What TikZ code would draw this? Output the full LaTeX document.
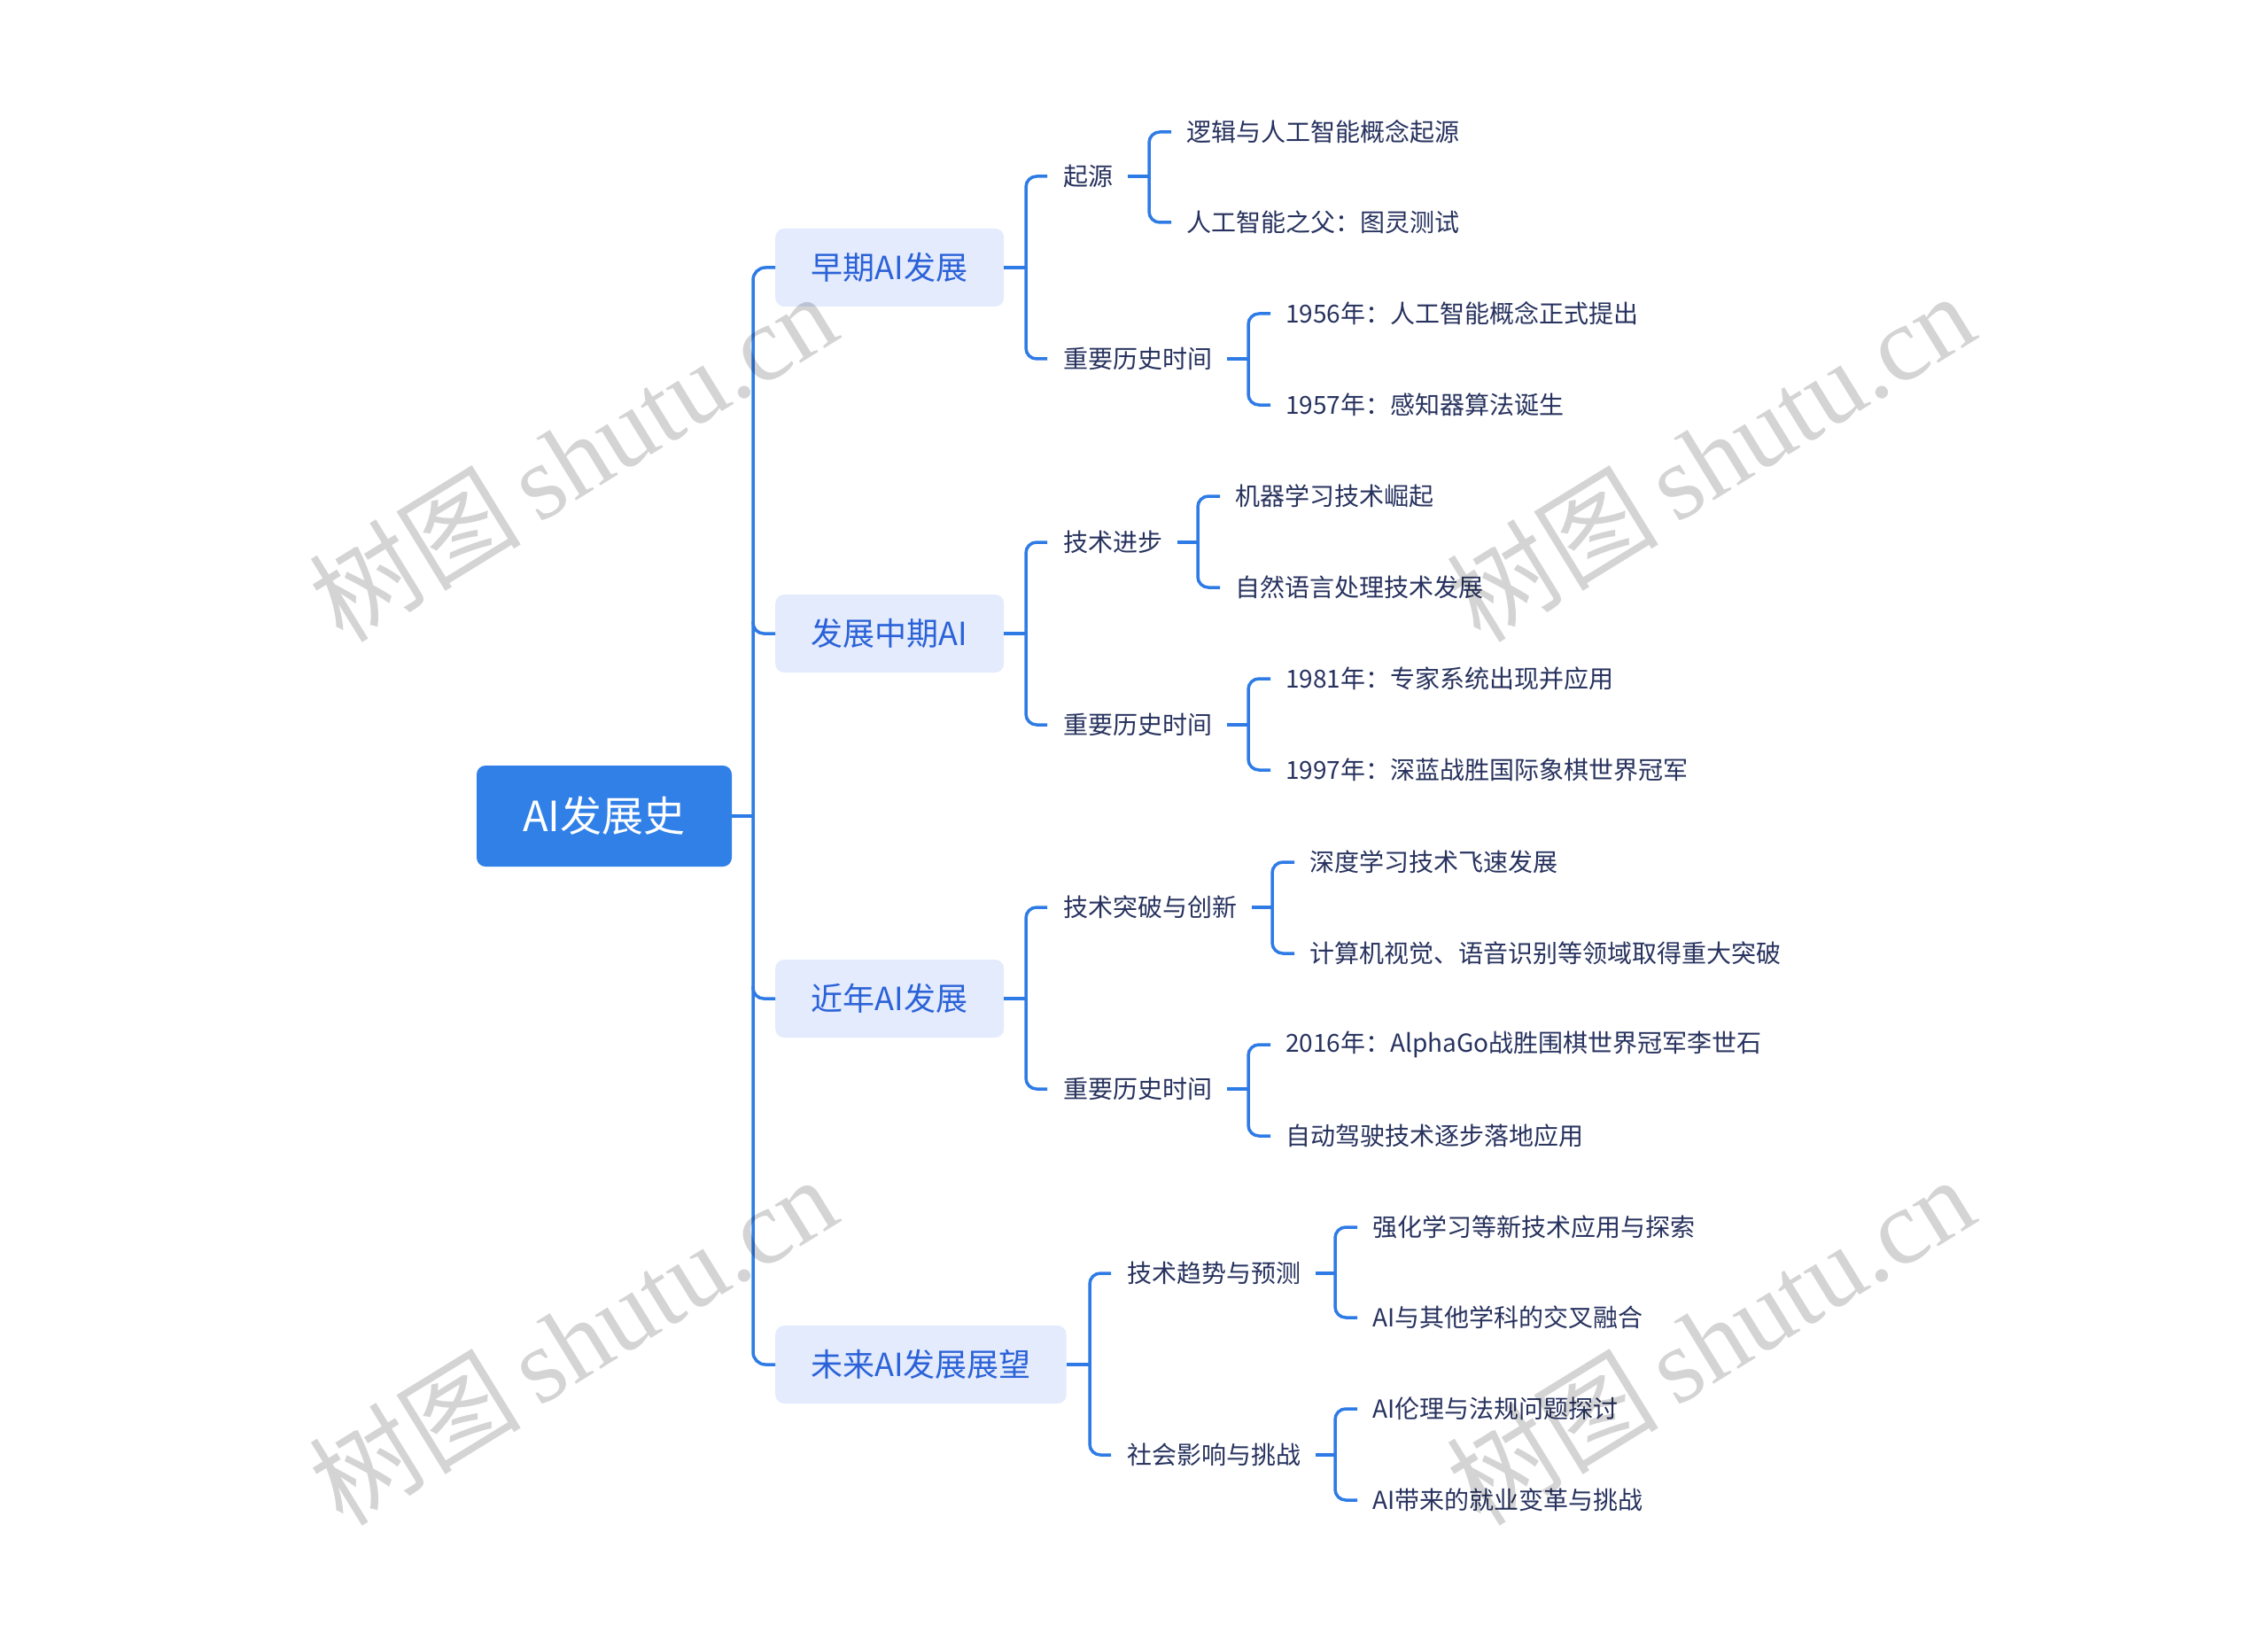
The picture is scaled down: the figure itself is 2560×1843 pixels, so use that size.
\documentclass[tikz,border=0pt]{standalone}
\usepackage{fontspec}
\setmainfont{Noto Sans CJK SC}
\newfontfamily\wmlatin{Liberation Serif}
\newfontfamily\wmcjk{Noto Sans CJK SC}
\usetikzlibrary{calc}
\definecolor{lineblue}{HTML}{2E7BE6}
\definecolor{rootblue}{HTML}{3080E8}
\definecolor{lonefill}{HTML}{E3EBFD}
\definecolor{lonetext}{HTML}{2B62D8}
\definecolor{navytext}{HTML}{27325E}
\begin{document}
\begin{tikzpicture}[x=1pt,y=-1pt,
  conn/.style={draw=lineblue, line width=3.5pt, rounded corners=12pt},
  rootbox/.style={fill=rootblue, rounded corners=10pt, text=white,
    font=\fontsize{47}{52}\selectfont, minimum width=288pt, minimum height=114pt, inner sep=0pt},
  lonebox/.style={fill=lonefill, rounded corners=10pt, text=lonetext, anchor=west,
    font=\fontsize{36}{42}\selectfont, minimum width=258pt, minimum height=88pt,
    inner xsep=40pt, inner ysep=0pt},
  ltwo/.style={anchor=west, inner sep=0pt, text=navytext, font=\fontsize{28}{32}\selectfont},
  leaf/.style={ltwo},
  wmark/.style={text=black, text opacity=0.17, rotate=31.6, inner sep=0pt,
    font=\fontsize{120}{130}\selectfont}
]
\useasboundingbox (0,0) rectangle (2560,1843);
\fill[white] (0,0) rectangle (2560,1843);

% root
\node[rootbox] (root) at (682,921) {AI发展史};
\coordinate (tk) at (850,0);

% level 1
\node[lonebox] (b1) at (875,302) {早期AI发展};
\node[lonebox] (b2) at (875,715) {发展中期AI};
\node[lonebox] (b3) at (875,1127) {近年AI发展};
\node[lonebox] (b4) at (875,1540) {未来AI发展展望};

% level 2
\node[ltwo] (a1) at (1200,199) {起源};
\node[ltwo] (a2) at (1200,405) {重要历史时间};
\node[ltwo] (a3) at (1200,612) {技术进步};
\node[ltwo] (a4) at (1200,818) {重要历史时间};
\node[ltwo] (a5) at (1200,1024) {技术突破与创新};
\node[ltwo] (a6) at (1200,1229) {重要历史时间};
\node[ltwo] (a7) at (1272,1437) {技术趋势与预测};
\node[ltwo] (a8) at (1272,1642) {社会影响与挑战};

% leaves
\node[leaf] (c1) at (1339,149) {逻辑与人工智能概念起源};
\node[leaf] (c2) at (1339,251) {人工智能之父：图灵测试};
\node[leaf] (c3) at (1451,354) {1956年：人工智能概念正式提出};
\node[leaf] (c4) at (1451,457) {1957年：感知器算法诞生};
\node[leaf] (c5) at (1394,560) {机器学习技术崛起};
\node[leaf] (c6) at (1394,663) {自然语言处理技术发展};
\node[leaf] (c7) at (1451,766) {1981年：专家系统出现并应用};
\node[leaf] (c8) at (1451,869) {1997年：深蓝战胜国际象棋世界冠军};
\node[leaf] (c9) at (1478,973) {深度学习技术飞速发展};
\node[leaf] (c10) at (1478,1076) {计算机视觉、语音识别等领域取得重大突破};
\node[leaf] (c11) at (1451,1179) {2016年：AlphaGo战胜围棋世界冠军李世石};
\node[leaf] (c12) at (1451,1282) {自动驾驶技术逐步落地应用};
\node[leaf] (c13) at (1549,1385) {强化学习等新技术应用与探索};
\node[leaf] (c14) at (1549,1487) {AI与其他学科的交叉融合};
\node[leaf] (c15) at (1549,1590) {AI伦理与法规问题探讨};
\node[leaf] (c16) at (1549,1693) {AI带来的就业变革与挑战};

% root to trunk
\draw[conn] (root.east) -- (root.east -| tk);
\draw[conn, rounded corners=14pt] (b1.west) -- (b1.west -| tk) -- (b4.west -| tk) -- (b4.west);
\draw[conn, rounded corners=12pt] ($(b2.west -| tk)+(0,-14)$) -- (b2.west -| tk) -- (b2.west);
\draw[conn, rounded corners=12pt] ($(b3.west -| tk)+(0,-14)$) -- (b3.west -| tk) -- (b3.west);

% level-1 brackets
\foreach \p/\u/\v in {b1/a1/a2, b2/a3/a4, b3/a5/a6, b4/a7/a8}{
  \draw[conn] (\p.east) -- ([xshift=-42pt]\u.west |- \p.east);
  \draw[conn] ([xshift=-18pt]\u.west) -- ([xshift=-42pt]\u.west) -- ([xshift=-42pt]\v.west) -- ([xshift=-18pt]\v.west);
}

% level-2 brackets
\foreach \p/\u/\v in {a1/c1/c2, a2/c3/c4, a3/c5/c6, a4/c7/c8, a5/c9/c10, a6/c11/c12, a7/c13/c14, a8/c15/c16}{
  \draw[conn] ([xshift=17pt]\p.east) -- ([xshift=-42pt]\u.west |- \p.east);
  \draw[conn] ([xshift=-17pt]\u.west) -- ([xshift=-42pt]\u.west) -- ([xshift=-42pt]\v.west) -- ([xshift=-17pt]\v.west);
}

% watermarks
\node[wmark] (w1) at (646,515) {\wmcjk 树图\,\wmlatin shutu.cn};
\node[wmark] (w2) at (1930,515) {\wmcjk 树图\,\wmlatin shutu.cn};
\node[wmark] (w3) at (646,1512) {\wmcjk 树图\,\wmlatin shutu.cn};
\node[wmark] (w4) at (1930,1512) {\wmcjk 树图\,\wmlatin shutu.cn};
\end{tikzpicture}
\end{document}
